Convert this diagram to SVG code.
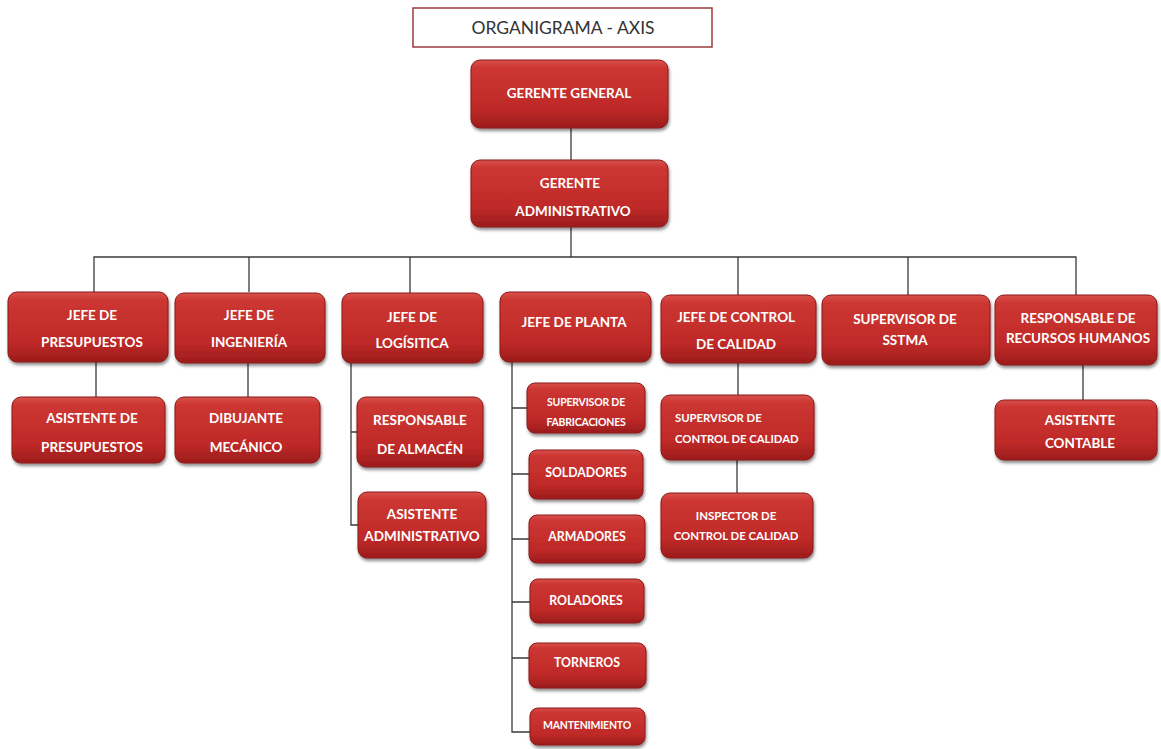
<svg xmlns="http://www.w3.org/2000/svg" width="1161" height="749" viewBox="0 0 1161 749">
<defs>
<linearGradient id="rg" x1="0" y1="0" x2="0" y2="1">
<stop offset="0" stop-color="#d9504a"/>
<stop offset="0.12" stop-color="#cc3632"/>
<stop offset="0.7" stop-color="#c02a28"/>
<stop offset="1" stop-color="#9c1c1c"/>
</linearGradient>
<filter id="sh" x="-10%" y="-10%" width="125%" height="135%">
<feDropShadow dx="1" dy="2.5" stdDeviation="1.6" flood-color="#000" flood-opacity="0.45"/>
</filter>
</defs>
<style>
.b{fill:url(#rg);stroke:#8a1a1a;stroke-width:1;filter:url(#sh)}
.t{font-family:Lato,"Liberation Sans",sans-serif;font-weight:bold;fill:#fff;text-anchor:middle;font-size:13.5px}
.ts{font-family:Lato,"Liberation Sans",sans-serif;font-weight:bold;fill:#fff;text-anchor:start;font-size:11.3px}
.m{font-size:12.3px}
.s{font-size:11.4px}
.xs{font-size:10.5px;letter-spacing:-0.2px}
.l{stroke:#3a3a3a;stroke-width:1.3;fill:none}
</style>
<rect width="1161" height="749" fill="#fff"/>
<g id="title">
<rect x="413" y="8" width="299" height="39" fill="#fff" stroke="#9b3b3b" stroke-width="1.5"/>
<text x="563" y="34" font-family="Lato,'Liberation Sans',sans-serif" font-size="17.5" fill="#333" text-anchor="middle">ORGANIGRAMA - AXIS</text>
</g>
<g id="connectors">
<path class="l" d="M571 128V160M571 227V257M94 292V257H1076V295M249 257V292M410 257V293M738 257V295M908 257V295"/>
<path class="l" d="M96 362V397M248 362V397"/>
<path class="l" d="M351 363V525H358M351 432H357"/>
<path class="l" d="M512 362V732H530M512 408H527M512 474H529M512 539H529M512 602H530M512 658H529"/>
<path class="l" d="M738 363V395M737 460V493M1083 365V400"/>
</g>
<g id="gerente-general"><rect class="b" x="471" y="60" width="197" height="68" rx="9"/><text class="t" x="569" y="98" font-size="14">GERENTE GENERAL</text></g>
<g id="gerente-administrativo"><rect class="b" x="471" y="160" width="197" height="67" rx="9"/><text class="t" x="570" y="188" font-size="14">GERENTE</text><text class="t" x="573" y="216" font-size="13.2">ADMINISTRATIVO</text></g>
<g id="jefe-presupuestos"><rect class="b" x="8" y="292" width="160" height="70" rx="9"/><text class="t" x="92" y="320">JEFE DE</text><text class="t" x="92" y="347">PRESUPUESTOS</text></g>
<g id="jefe-ingenieria"><rect class="b" x="175" y="293" width="150" height="70" rx="9"/><text class="t" x="249" y="320">JEFE DE</text><text class="t" x="249" y="347">INGENIERÍA</text></g>
<g id="jefe-logistica"><rect class="b" x="342" y="293" width="141" height="70" rx="9"/><text class="t" x="412" y="322">JEFE DE</text><text class="t" x="412" y="348">LOGÍSITICA</text></g>
<g id="jefe-planta"><rect class="b" x="500" y="292" width="151" height="70" rx="9"/><text class="t" x="574" y="327" font-size="13.8">JEFE DE PLANTA</text></g>
<g id="jefe-control-calidad"><rect class="b" x="661" y="295" width="155" height="68" rx="9"/><text class="t" x="736" y="322">JEFE DE CONTROL</text><text class="t" x="736" y="349">DE CALIDAD</text></g>
<g id="supervisor-sstma"><rect class="b" x="822" y="295" width="168" height="70" rx="9"/><text class="t" x="905" y="324" font-size="14">SUPERVISOR DE</text><text class="t" x="905" y="345" font-size="14">SSTMA</text></g>
<g id="responsable-rrhh"><rect class="b" x="995" y="295" width="162" height="70" rx="9"/><text class="t" x="1078" y="323" font-size="12.4">RESPONSABLE DE</text><text class="t" x="1078" y="343" font-size="12.4">RECURSOS HUMANOS</text></g>
<g id="asistente-presupuestos"><rect class="b" x="12" y="397" width="153" height="66" rx="9"/><text class="t" x="92" y="423" font-size="13.8">ASISTENTE DE</text><text class="t" x="92" y="452" font-size="13.8">PRESUPUESTOS</text></g>
<g id="dibujante-mecanico"><rect class="b" x="175" y="397" width="145" height="66" rx="9"/><text class="t" x="246" y="423" font-size="13.8">DIBUJANTE</text><text class="t" x="246" y="452" font-size="13.8">MECÁNICO</text></g>
<g id="responsable-almacen"><rect class="b" x="357" y="397" width="126" height="70" rx="9"/><text class="t" x="420" y="425" font-size="14.6">RESPONSABLE</text><text class="t" x="420" y="454" font-size="14.6">DE ALMACÉN</text></g>
<g id="asistente-administrativo"><rect class="b" x="358" y="492" width="128" height="66" rx="9"/><text class="t" x="422" y="519" font-size="11.7">ASISTENTE</text><text class="t" x="422" y="541" font-size="11.7">ADMINISTRATIVO</text></g>
<g id="supervisor-fabricaciones"><rect class="b" x="527" y="383" width="118" height="50" rx="8"/><text class="t xs" x="586" y="406">SUPERVISOR DE</text><text class="t xs" x="586" y="426">FABRICACIONES</text></g>
<g id="soldadores"><rect class="b" x="529" y="450" width="114" height="49" rx="8"/><text class="t m" x="586" y="477">SOLDADORES</text></g>
<g id="armadores"><rect class="b" x="529" y="515" width="116" height="48" rx="8"/><text class="t m" x="587" y="541">ARMADORES</text></g>
<g id="roladores"><rect class="b" x="530" y="579" width="114" height="44" rx="8"/><text class="t m" x="586" y="605">ROLADORES</text></g>
<g id="torneros"><rect class="b" x="529" y="643" width="117" height="45" rx="8"/><text class="t m" x="587" y="667">TORNEROS</text></g>
<g id="mantenimiento"><rect class="b" x="530" y="708" width="115" height="37" rx="8"/><text class="t xs" x="587" y="729">MANTENIMIENTO</text></g>
<g id="supervisor-control-calidad"><rect class="b" x="661" y="395" width="153" height="65" rx="9"/><text class="ts" x="675" y="422">SUPERVISOR DE</text><text class="ts" x="675" y="443">CONTROL DE CALIDAD</text></g>
<g id="inspector-control-calidad"><rect class="b" x="661" y="493" width="152" height="65" rx="9"/><text class="t s" x="736" y="520">INSPECTOR DE</text><text class="t s" x="736" y="540">CONTROL DE CALIDAD</text></g>
<g id="asistente-contable"><rect class="b" x="995" y="400" width="162" height="60" rx="9"/><text class="t" x="1080" y="425" font-size="14.6">ASISTENTE</text><text class="t" x="1080" y="448" font-size="14.6">CONTABLE</text></g>
</svg>
